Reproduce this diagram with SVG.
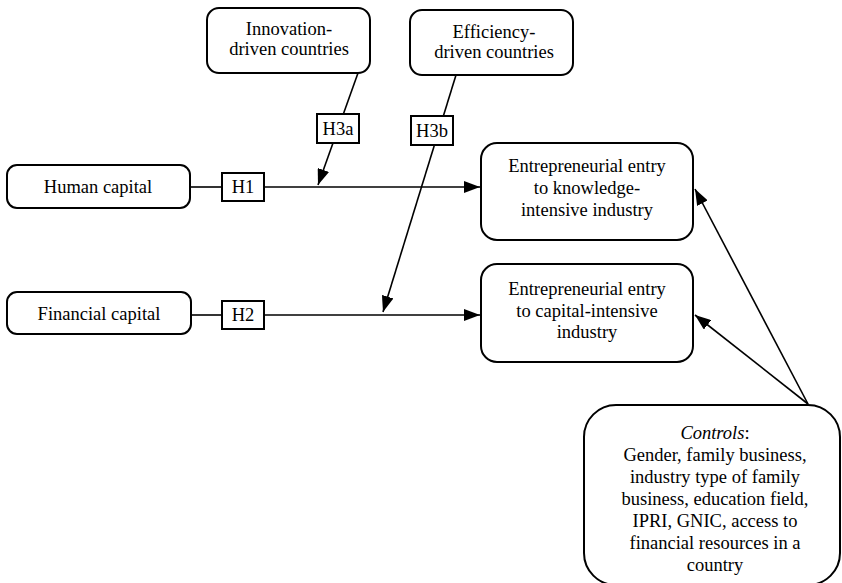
<svg xmlns="http://www.w3.org/2000/svg" width="842" height="583" viewBox="0 0 842 583">
<style>
.box{fill:#fff;stroke:#000;stroke-width:2}
.hb{fill:#fff;stroke:#000;stroke-width:2}
.ln{fill:none;stroke:#000;stroke-width:1.6}
.t{font-size:18.5px;fill:#000;text-anchor:middle}
</style>
<defs>
<marker id="ah" markerUnits="userSpaceOnUse" markerWidth="16" markerHeight="12" viewBox="0 0 16 12" refX="16" refY="6" orient="auto">
<path d="M0,0 L16,6 L0,12 Z" fill="#000"/>
</marker>
</defs>
<rect width="842" height="583" fill="#fff"/>
<g id="connectors">
<line class="ln" x1="190" y1="187" x2="222" y2="187"/>
<line class="ln" x1="264" y1="187" x2="480" y2="187" marker-end="url(#ah)"/>
<line class="ln" x1="191" y1="315" x2="222" y2="315"/>
<line class="ln" x1="264" y1="315" x2="480" y2="315" marker-end="url(#ah)"/>
<line class="ln" x1="358" y1="73" x2="318" y2="185" marker-end="url(#ah)"/>
<line class="ln" x1="456" y1="75" x2="383" y2="312" marker-end="url(#ah)"/>
<line class="ln" x1="808" y1="404" x2="695" y2="189" marker-end="url(#ah)"/>
<line class="ln" x1="808" y1="404" x2="695" y2="315" marker-end="url(#ah)"/>
</g>
<g class="t" font-family="'Liberation Serif', 'Times New Roman', 'DejaVu Serif', serif">
<g id="innovation">
<rect class="box" x="207" y="8" width="163" height="65" rx="12"/>
<text x="289" y="35">Innovation-</text>
<text x="289" y="55">driven countries</text>
</g>
<g id="efficiency">
<rect class="box" x="410" y="10" width="163" height="65" rx="12"/>
<text x="494" y="38">Efficiency-</text>
<text x="494" y="58">driven countries</text>
</g>
<g id="h3a">
<rect class="hb" x="317" y="114" width="42" height="29"/>
<text x="338" y="135">H3a</text>
</g>
<g id="h3b">
<rect class="hb" x="411" y="116" width="42" height="29"/>
<text x="432" y="137">H3b</text>
</g>
<g id="human">
<rect class="box" x="7" y="165" width="183" height="43" rx="10"/>
<text x="98" y="193">Human capital</text>
</g>
<g id="h1">
<rect class="hb" x="222" y="173" width="42" height="28"/>
<text x="243" y="193">H1</text>
</g>
<g id="financial">
<rect class="box" x="7" y="292" width="184" height="42" rx="10"/>
<text x="99" y="320">Financial capital</text>
</g>
<g id="h2">
<rect class="hb" x="222" y="301" width="42" height="28"/>
<text x="243" y="321">H2</text>
</g>
<g id="knowledge">
<rect class="box" x="481" y="143" width="212" height="97" rx="16"/>
<text x="587" y="172">Entrepreneurial entry</text>
<text x="587" y="194">to knowledge-</text>
<text x="587" y="216">intensive industry</text>
</g>
<g id="capital">
<rect class="box" x="481" y="264" width="212" height="98" rx="16"/>
<text x="587" y="295">Entrepreneurial entry</text>
<text x="587" y="317">to capital-intensive</text>
<text x="587" y="338">industry</text>
</g>
<g id="controls">
<rect class="box" x="584" y="405" width="256" height="180" rx="32"/>
<text x="715" y="439"><tspan font-style="italic">Controls</tspan>:</text>
<text x="715" y="461">Gender, family business,</text>
<text x="715" y="483">industry type of family</text>
<text x="715" y="505">business, education field,</text>
<text x="715" y="527">IPRI, GNIC, access to</text>
<text x="715" y="549">financial resources in a</text>
<text x="715" y="571">country</text>
</g>
</g>
</svg>
